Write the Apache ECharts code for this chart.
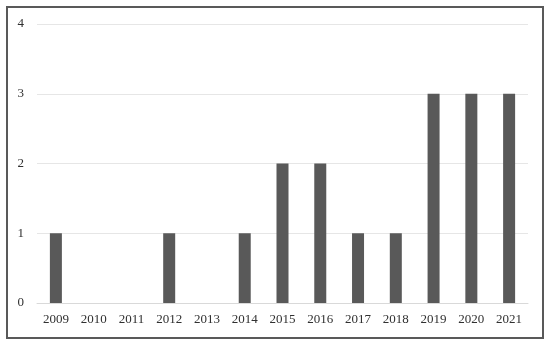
<!DOCTYPE html>
<html><head><meta charset="utf-8">
<script src="https://cdn.jsdelivr.net/npm/echarts@6/dist/echarts.min.js"></script>
<style>html,body{margin:0;padding:0;background:#fff}#c{width:550px;height:346px}</style>
</head><body><div id="c"></div>
<script>
const categories = ['2009','2010','2011','2012','2013','2014','2015','2016','2017','2018','2019','2020','2021'];
const values = [1,0,0,1,0,1,2,2,1,1,3,3,3];
const yTicks = [0,1,2,3,4];

const chart = echarts.init(document.getElementById('c'), null, {renderer:'canvas'});
const font = '"Liberation Serif", "DejaVu Serif", serif';
chart.setOption({
  animation:false,
  backgroundColor:'#fff',
  graphic:[{type:'rect', shape:{x:7,y:7,width:536,height:331}, style:{fill:'none', stroke:'#595959', lineWidth:2}, z:100}],
  grid:{left:37, right:22, top:24, bottom:43, containLabel:false},
  xAxis:{type:'category', data:categories,
    axisLine:{show:true, lineStyle:{color:'#d9d9d9'}}, axisTick:{show:false},
    axisLabel:{color:'#303030', fontFamily:font, fontSize:13, margin:10}},
  yAxis:{type:'value', min:yTicks[0], max:yTicks[yTicks.length-1], interval:1,
    axisLine:{show:false}, axisTick:{show:false},
    splitLine:{lineStyle:{color:'#e6e6e6'}},
    axisLabel:{color:'#303030', fontFamily:font, fontSize:13, margin:13}},
  series:[{type:'bar', data:values, barWidth:12, itemStyle:{color:'#595959'}}]
});
</script></body></html>
